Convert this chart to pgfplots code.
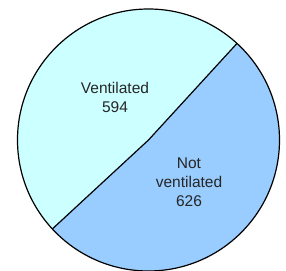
\documentclass[border=0pt]{standalone}
\usepackage{pgfplots}
\pgfplotsset{compat=1.18}
\usepackage{pgfplotstable}
\usepackage{fontspec}
\setmainfont{Liberation Sans}
\definecolor{ventc}{HTML}{CCFFFF}
\definecolor{notc}{HTML}{99CCFF}
\pgfplotstableread{
label value
Ventilated 594
NotVentilated 626
}\piedata
\begin{document}
\begin{tikzpicture}
\path[use as bounding box] (0,0) rectangle (286bp,271bp);
\pgfplotstablegetelem{0}{value}\of\piedata \let\va\pgfplotsretval
\pgfplotstablegetelem{1}{value}\of\piedata \let\vb\pgfplotsretval
\pgfmathsetmacro{\tot}{\va+\vb}
\pgfmathsetmacro{\fa}{\va/\tot}
\pgfmathsetmacro{\sa}{47.5}
\pgfmathsetmacro{\ea}{\sa+360*\fa}
\pgfmathsetmacro{\eb}{\sa+360}
\begin{axis}[
  at={(0,0)}, anchor=south west,
  x=1bp, y=1bp, scale only axis,
  xmin=0, xmax=286, ymin=0, ymax=271,
  hide axis, clip=false,
]
\fill[ventc] (axis cs:148.5,131) -- ++(\sa:131bp) arc[start angle=\sa, end angle=\ea, radius=131bp] -- cycle;
\fill[notc] (axis cs:148.5,131) -- ++(\ea:131bp) arc[start angle=\ea, end angle=\eb, radius=131bp] -- cycle;
\draw[line width=1.2bp] (axis cs:148.5,131) circle[radius=131bp];
\draw[line width=1.2bp] (axis cs:148.5,131) -- ++(\sa:131bp);
\draw[line width=1.2bp] (axis cs:148.5,131) -- ++(\ea:131bp);
\node[align=center, font=\fontsize{15.5bp}{19bp}\selectfont, text=black!85] at (axis cs:115,174) {Ventilated\\594};
\node[align=center, font=\fontsize{15.5bp}{19bp}\selectfont, text=black!85] at (axis cs:189,89) {Not\\ventilated\\626};
\end{axis}
\end{tikzpicture}
\end{document}
